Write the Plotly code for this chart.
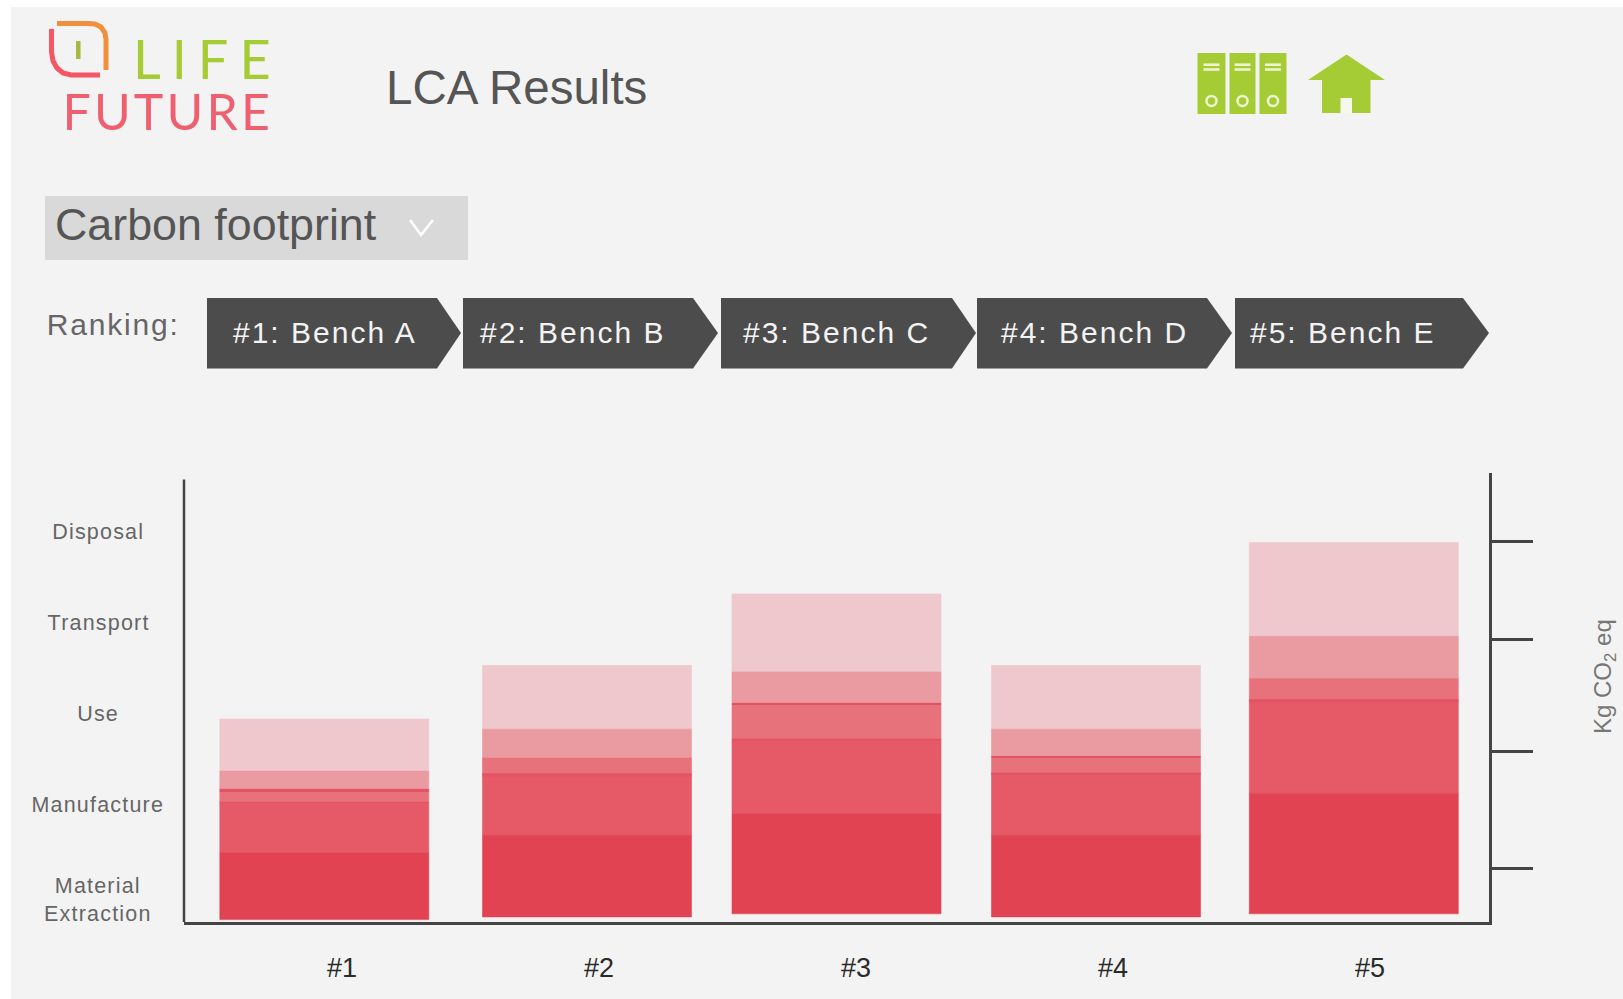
import numpy as np
import plotly.graph_objects as go

# ---------- data ----------
title = "LCA Results"
indicator = "Carbon footprint"
ranking_label = "Ranking:"
ranking = ["#1: Bench A", "#2: Bench B", "#3: Bench C", "#4: Bench D", "#5: Bench E"]
categories = ["#1", "#2", "#3", "#4", "#5"]
stages = ["Material<br>Extraction", "Manufacture", "Use", "Transport", "Disposal"]
baseline = [2.4, 5.1, 8.2, 5.1, 8.2]
material = [66.7, 81.5, 99.8, 81.5, 120.4]
manufacture = [50.9, 61.9, 75.2, 62.6, 93.8]
use = [13.0, 15.5, 35.8, 16.5, 21.0]
transport = [17.9, 28.8, 31.0, 27.1, 42.3]
disposal = [52.2, 63.6, 78.0, 63.6, 93.8]
manufacture_seam = [1.0, 3.0, 2.0, 1.5, 3.0]
use_seam = [3.0, 0.0, 1.5, 1.0, 0.0]
right_ticks = [54, 170.5, 282.6, 381]

# ---------- style / layout constants ----------
W, H = 1623, 999
COLORS = ["#E24352", "#E65966", "#E8727C", "#EA9AA1", "#EEC8CC"]
SEAM = "#E25464"
INK = "#444444"
GREEN = "#A5CC34"
BG = "#F3F3F3"
FONT = "Liberation Sans"
AX_L, AX_R, AX_B, AX_T = 184, 1489, 922, 473
STEP = 257.0
FIRST = 342.0
BAR_W = 209.0
BAR_SHIFT = [-17.7, -12.0, -19.5, -17.0, -16.2]


def X(p):
    return p / W


def Y(p):
    return 1 - p / H


def poly(points, close=True):
    d = "M " + " L ".join(f"{X(a):.5f},{Y(b):.5f}" for a, b in points)
    return d + (" Z" if close else "")


shapes = []
annots = []


def rect(x0, y0, x1, y1, fill, layer="below"):
    shapes.append(dict(type="rect", xref="paper", yref="paper", x0=X(x0), x1=X(x1), y0=Y(y1), y1=Y(y0),
                       fillcolor=fill, line_width=0, layer=layer))


def path(d, fill=None, line=None, width=0):
    shapes.append(dict(type="path", xref="paper", yref="paper", path=d,
                       fillcolor=fill if fill else "rgba(0,0,0,0)",
                       line=dict(color=line if line else "rgba(0,0,0,0)", width=width), layer="above"))


def label(text, x, y, size, color, angle=0, family=FONT, weight=None):
    f = dict(family=family, size=size, color=color)
    if weight:
        f["weight"] = weight
    annots.append(dict(text=text, xref="paper", yref="paper", x=X(x), y=Y(y), xanchor="center", yanchor="middle",
                       showarrow=False, font=f, textangle=angle, align="center"))


# panel
rect(11, 7, W, H, BG)

# logo mark
path(poly([(57, 23.5), (88, 23.5), (95, 24), (101, 27), (105, 33), (106, 40), (106, 70)], close=False), line="#F0903E", width=5)
path(poly([(51.5, 29), (51.5, 52), (53, 61), (57, 68), (63, 73), (71, 75), (100, 75)], close=False), line="#F45663", width=5)
path(poly([(78.3, 41), (78.3, 59)], close=False), line="#A8B83C", width=4.5)
label("LIFE", 207, 58, 54, GREEN, family="Lato")
label("FUTURE", 168, 111, 50, "#EE6070", family="Lato")

# title + dropdown
label(title, 516, 87, 47.5, "#555555")
rect(45, 196, 468, 260, "#D9D9D9")
label(indicator, 216, 224, 44.8, "#555555")
path(poly([(410, 220), (421, 235), (433, 220)], close=False), line="#FFFFFF", width=2.5)

# ranking chevrons
label(ranking_label, 113, 324, 30, "#666666")
chev = [(207, 437, 461), (463, 693, 718), (721, 952, 976), (977, 1207, 1232), (1235, 1463, 1489)]
text_cx = [325, 572, 836, 1094, 1342]
for (x0, x1, tip), txt, cx in zip(chev, ranking, text_cx):
    path(poly([(x0, 298), (x1, 298), (tip, 333), (x1, 368.5), (x0, 368.5)]), fill="#4C4C4C")
    label(txt, cx, 332, 30, "#F3F3F3")

# binders
for x0, x1 in [(1197.5, 1225.5), (1229.5, 1255.5), (1259.5, 1286.5)]:
    rect(x0, 53, x1, 114, GREEN, layer="above")
    cx = (x0 + x1) / 2
    for yy in (64.7, 69.5):
        rect(cx - 8, yy - 1.3, cx + 8, yy + 1.3, "#EEF4D0", layer="above")
    shapes.append(dict(type="circle", xref="paper", yref="paper", x0=X(cx - 5), x1=X(cx + 5), y0=Y(106), y1=Y(96),
                       fillcolor=GREEN, line=dict(color="#EEF4D0", width=2.5), layer="above"))

# house
path(poly([(1346.5, 54.5), (1385, 80), (1370.5, 80), (1370.5, 113), (1322, 113), (1322, 80), (1308, 80)]), fill=GREEN)
rect(1340.5, 98, 1352, 113, "#F6F8EC", layer="above")

# left stage labels and unit label
for txt, yy in zip(stages, [899.5, 805, 714, 623, 532]):
    label(txt, 98, yy, 21.5, "#666666")
label("Kg CO<sub>2</sub> eq", 1604, 677, 24, "#777777", angle=-90)

# left axis line
shapes.append(dict(type="line", xref="paper", yref="paper", x0=X(AX_L), x1=X(AX_L), y0=Y(AX_B), y1=Y(479.5),
                   line=dict(color=INK, width=2.5), layer="above"))

# ---------- chart ----------
series = [material, manufacture, use, transport, disposal]
names = ["Material Extraction", "Manufacture", "Use", "Transport", "Disposal"]
offsets = [s / STEP - BAR_W / STEP / 2 for s in BAR_SHIFT]
bar_w = BAR_W / STEP

fig = go.Figure()
bottom = np.array(baseline, dtype=float)
tops = {}
# drawn top layer first, so each lower layer closes the hairline at its upper edge
starts = {}
for name, vals in zip(names, series):
    starts[name] = bottom.copy()
    bottom = bottom + np.array(vals)
    tops[name] = bottom.copy()
for name, vals, col in list(zip(names, series, COLORS))[::-1]:
    fig.add_bar(x=categories, y=vals, base=starts[name].tolist(), name=name,
                marker=dict(color=col, line=dict(color=col, width=0.6)),
                width=bar_w, offset=offsets, showlegend=False)

for seam, key in [(manufacture_seam, "Manufacture"), (use_seam, "Use")]:
    s = np.array(seam)
    fig.add_bar(x=categories, y=seam, base=(tops[key] - s).tolist(), name=key + " seam",
                marker=dict(color=SEAM, line_width=0), width=bar_w, offset=offsets,
                showlegend=False, hoverinfo="skip")

fig.update_layout(
    width=W, height=H, autosize=False, margin=dict(l=0, r=0, t=0, b=0, pad=0),
    paper_bgcolor="#FFFFFF", plot_bgcolor="rgba(0,0,0,0)", barmode="overlay",
    font=dict(family=FONT), shapes=shapes, annotations=annots,
    xaxis=dict(domain=[X(AX_L), X(AX_R)], type="category", categoryorder="array", categoryarray=categories,
               range=[-(FIRST - AX_L) / STEP, (AX_R - FIRST) / STEP], showline=True, linecolor=INK, linewidth=3,
               showgrid=False, zeroline=False, ticks="", ticklabelstandoff=20,
               tickfont=dict(size=27, color="#2A2A2A", family=FONT), fixedrange=True),
    yaxis=dict(domain=[Y(AX_B), Y(AX_T)], range=[0, AX_B - AX_T], side="right", showline=True, linecolor=INK,
               linewidth=2.5, showgrid=False, zeroline=False, tickmode="array", tickvals=right_ticks,
               showticklabels=False, ticks="outside", ticklen=41, tickwidth=3, tickcolor=INK, fixedrange=True),
)

post = """
document.documentElement.style.overflow='hidden';
document.body.style.margin='0';
var sp={'LIFE':11,'FUTURE':3.2,'Ranking:':1.8,'Disposal':1.2,'Transport':1.2,'Use':1.2,'Manufacture':1.2,'MaterialExtraction':1.2,'Kg CO2 eq':2.6};
document.querySelectorAll('.annotation-text').forEach(function(t){
  var s=t.textContent;
  if(sp[s]) t.style.letterSpacing=sp[s]+'px';
  else if(s.indexOf('Bench')>=0) t.style.letterSpacing='2px';
});
"""
fig.write_html("out.html", post_script=post, config=dict(displayModeBar=False))
